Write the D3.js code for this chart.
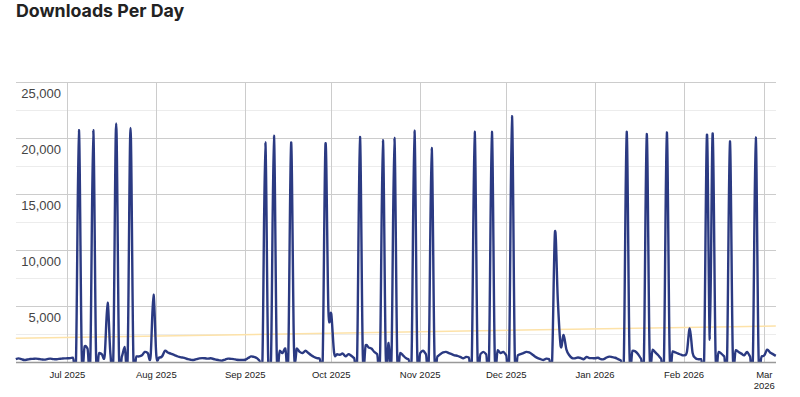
<!DOCTYPE html>
<html>
<head>
<meta charset="utf-8">
<script src="https://cdn.jsdelivr.net/npm/d3@7"></script>
<style>
  body { margin: 0; background: #fff; }
  svg { display: block; }
</style>
</head>
<body>
<svg id="chart" width="800" height="397"></svg>
<script>
// daily downloads, one array per month, first day is 13 Jun 2025
const startDay = new Date(2025, 5, 13);
const jun2025 = [250, 320, 250, 180, 220, 270, 280, 300, 270, 230, 210, 260, 300, 260, 240, 280, 300, 320];
const jul2025 = [330, 350, 380, 300, 20700, 600, 1400, 1200, 400, 20700, 500, 800, 700, 600, 5300, 700,
  400, 21300, 400, 500, 1350, 400, 20900, 400, 500, 500, 600, 900, 800, 500, 6000];
const aug2025 = [600, 400, 500, 1000, 850, 750, 650, 550, 450, 400, 350, 250, 200, 180, 250, 330, 350, 330,
  300, 330, 270, 200, 150, 130, 220, 300, 280, 260, 200, 180, 180];
const sep2025 = [200, 350, 500, 450, 350, 150, 200, 19600, 300, 400, 20200, 600, 1000, 800, 1200, 400,
  19600, 1200, 1200, 900, 800, 1000, 800, 600, 450, 350, 300, 150, 19500, 4600];
const oct2025 = [4300, 800, 700, 650, 750, 500, 700, 550, 350, 200, 20100, 600, 1500, 1300, 1200, 900,
  700, 400, 19800, 600, 1700, 400, 20000, 500, 800, 600, 350, 250, 300, 20650, 500];
const nov2025 = [800, 1000, 700, 300, 19100, 500, 500, 700, 850, 900, 800, 700, 600, 550, 450, 330, 450,
  400, 200, 20550, 500, 700, 900, 700, 300, 20550, 700, 1050, 800, 900];
const dec2025 = [600, 200, 21950, 500, 600, 700, 800, 900, 850, 700, 500, 350, 250, 180, 300, 250, 100,
  11600, 5500, 1400, 2400, 1100, 600, 350, 330, 400, 350, 250, 450, 350, 350];
const jan2026 = [330, 380, 250, 250, 400, 480, 430, 380, 250, 150, 100, 20550, 700, 1000, 950, 700, 300,
  150, 20350, 800, 1100, 850, 600, 300, 150, 20500, 700, 950, 850, 750, 650];
const feb2026 = [600, 900, 3000, 800, 350, 250, 250, 150, 20300, 2000, 20400, 700, 900, 750, 500, 200,
  19700, 800, 1050, 900, 750, 600, 900, 500, 200, 20050, 500, 500];
const mar2026 = [600, 1100, 850, 700, 550];

// linear trend line, read at first and last day
const trendValues = [2120, 3210];
const yTicks = [5000, 10000, 15000, 20000, 25000];

const downloads = [].concat(jun2025, jul2025, aug2025, sep2025, oct2025, nov2025, dec2025, jan2026, feb2026, mar2026);
const data = downloads.map((v, i) => ({ date: d3.timeDay.offset(startDay, i), value: v }));

const plotLeft = 15.8, plotRight = 775.8, plotTop = 82, plotBottom = 362;
const svg = d3.select("#chart");

const x = d3.scaleTime()
  .domain([data[0].date, data[data.length - 1].date])
  .range([plotLeft, plotRight]);
const y = d3.scaleLinear().domain([0, 25000]).range([plotBottom, plotTop]);

svg.append("text")
  .attr("x", 16).attr("y", 16.5)
  .attr("font-family", "Inter, sans-serif")
  .attr("font-weight", 700)
  .attr("font-size", 17.8)
  .attr("fill", "#222")
  .text("Downloads Per Day");

const grid = svg.append("g");
// minor horizontal lines
grid.selectAll("line.minor")
  .data(d3.range(2500, 25000, 5000))
  .enter().append("line")
  .attr("class", "minor")
  .attr("x1", 16).attr("x2", 776)
  .attr("y1", d => y(d) + 0.5).attr("y2", d => y(d) + 0.5)
  .attr("stroke", "#ececec");

grid.selectAll("line.major")
  .data(yTicks)
  .enter().append("line")
  .attr("class", "major")
  .attr("x1", 16).attr("x2", 776)
  .attr("y1", d => y(d) + 0.5).attr("y2", d => y(d) + 0.5)
  .attr("stroke", "#cccccc");

const months = x.ticks(d3.timeMonth.every(1));
grid.selectAll("line.month")
  .data(months)
  .enter().append("line")
  .attr("class", "month")
  .attr("x1", d => Math.round(x(d)) + 0.5).attr("x2", d => Math.round(x(d)) + 0.5)
  .attr("y1", plotTop).attr("y2", plotBottom)
  .attr("stroke", "#cccccc");

// y labels sit just under their grid line
svg.append("g").selectAll("text")
  .data(yTicks)
  .enter().append("text")
  .attr("x", 61)
  .attr("y", d => y(d) + 15.5)
  .attr("text-anchor", "end")
  .attr("font-family", "'Liberation Sans', Arial, sans-serif")
  .attr("font-size", 13)
  .attr("fill", "#444")
  .text(d3.format(","));

const fmt = d3.timeFormat("%b %Y");
const xl = svg.append("g")
  .attr("font-family", "'Liberation Sans', Arial, sans-serif")
  .attr("font-size", 9.5)
  .attr("fill", "#222")
  .attr("text-anchor", "middle");
months.forEach(m => {
  const px = x(m);
  const t = xl.append("text").attr("x", px).attr("y", 377.5);
  if (px + 20 > 776) {
    // no room at the right edge, so wrap
    fmt(m).split(" ").forEach((w, i) => {
      t.append("tspan").attr("x", px).attr("dy", i ? 11 : 0).text(w);
    });
  } else {
    t.text(fmt(m));
  }
});

svg.append("defs").append("clipPath").attr("id", "plot")
  .append("rect").attr("x", plotLeft - 1).attr("y", plotTop)
  .attr("width", plotRight - plotLeft + 2).attr("height", plotBottom - plotTop);

const trend = [
  { date: data[0].date, value: trendValues[0] },
  { date: data[data.length - 1].date, value: trendValues[1] }
];
svg.append("path")
  .datum(trend)
  .attr("fill", "none")
  .attr("stroke", "#fde2a8")
  .attr("stroke-width", 1.5)
  .attr("d", d3.line().x(d => x(d.date)).y(d => y(d.value)));

svg.append("path")
  .datum(data)
  .attr("clip-path", "url(#plot)")
  .attr("fill", "none")
  .attr("stroke", "#2b3a82")
  .attr("stroke-width", 2.4)
  .attr("stroke-linejoin", "round")
  .attr("d", d3.line()
    .curve(d3.curveCatmullRom.alpha(0))
    .x(d => x(d.date))
    .y(d => y(d.value)));

// baseline
svg.append("line")
  .attr("x1", 16).attr("x2", 776)
  .attr("y1", plotBottom + 0.5).attr("y2", plotBottom + 0.5)
  .attr("stroke", "#999")
  .attr("stroke-width", 1.5);
</script>
</body>
</html>
